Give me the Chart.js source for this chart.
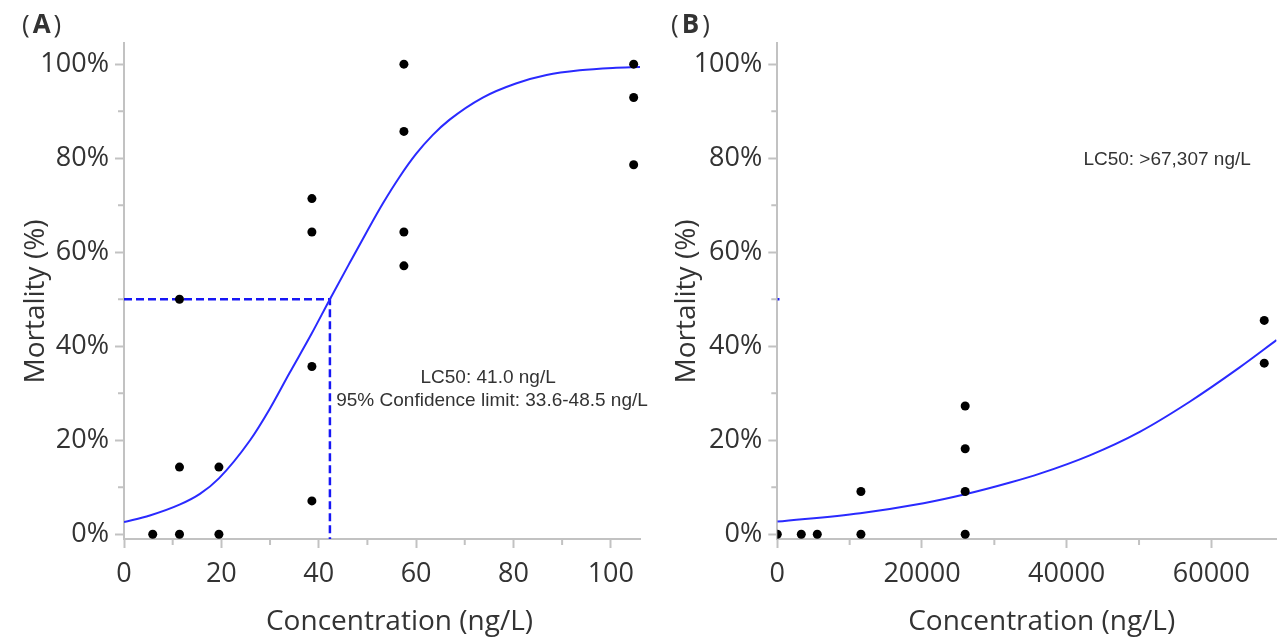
<!DOCTYPE html>
<html>
<head>
<meta charset="utf-8">
<title>Mortality vs concentration</title>
<script src="https://cdn.jsdelivr.net/npm/chart.js@4.4.1/dist/chart.umd.min.js"></script>
<style>
  body { margin: 0; background: #fff; }
  .panel { position: absolute; top: 0; height: 638px; }
  #panelA { left: 0; width: 660px; }
  #panelB { left: 660px; width: 621px; }
</style>
</head>
<body>
<div class="panel" id="panelA"><canvas id="chartA" width="660" height="638"></canvas></div>
<div class="panel" id="panelB"><canvas id="chartB" width="621" height="638"></canvas></div>
<script>
// (A) observed mortality, one value per replicate
var concA = [5.9, 11.4, 11.4, 11.4, 19.5, 19.5, 38.6, 38.6, 38.6, 38.6, 57.5, 57.5, 57.5, 57.5, 104.7, 104.7, 104.7];
var mortA = [0, 0, 14.3, 50, 0, 14.3, 7.1, 35.7, 64.3, 71.4, 57.1, 64.3, 85.7, 100, 78.6, 92.9, 100];
// (A) fitted curve
var fitConcA = [0, 5.3, 11.4, 15.6, 19.5, 25.9, 29.9, 34, 38.5, 42.3, 46.4, 49.8, 53.2, 56.6, 60, 63.4, 66.9, 73.7, 80.5, 86.8, 93.6, 100.4, 106];
var fitMortA = [2.6, 4.0, 6.3, 8.6, 11.9, 20.0, 26.6, 34.3, 42.6, 50, 57.8, 64.2, 70.4, 76.0, 80.9, 84.9, 88.2, 92.9, 95.9, 97.7, 98.7, 99.2, 99.4];
// (A) LC50 guide
var guideConcA = [0, 42.3, 42.3];
var guideMortA = [50, 50, -1];

// (B) observed mortality
var concB = [0, 3315, 5525, 11560, 11560, 25970, 25970, 25970, 25970, 67307, 67307];
var mortB = [0, 0, 0, 0, 9.1, 0, 9.1, 18.2, 27.3, 36.4, 45.5];
// (B) fitted curve
var fitConcB = [0, 11460, 20220, 25970, 32180, 36285, 43190, 50100, 57000, 63910, 69000];
var fitMortB = [2.7, 4.5, 6.6, 8.5, 11.0, 12.9, 16.8, 21.8, 28.2, 35.5, 41.3];
// (B) LC50 guide (only its start is inside the plot)
var guideConcB = [0, 300];
var guideMortB = [50, 50];

// ticks
var yMajor = [0, 20, 40, 60, 80, 100];
var yMinor = [10, 30, 50, 70, 90];
var xMajorA = [0, 20, 40, 60, 80, 100];
var xMinorA = [10, 30, 50, 70, 90];
var xMajorB = [0, 20000, 40000, 60000];
var xMinorB = [10000, 30000, 50000];

var axisGray = '#c2c2c2';
var textGray = '#333333';
var curveBlue = '#2a2aff';
var guideBlue = '#1717f5';

function pairs(xs, ys) {
    return xs.map(function (x, i) { return { x: x, y: ys[i] }; });
}

function axis(min, max, majors, fmt, pad, size) {
    return {
        type: 'linear',
        min: min,
        max: max,
        afterBuildTicks: function (s) {
            s.ticks = majors.map(function (v) { return { value: v }; });
        },
        afterFit: function (s) {
            if (s.isHorizontal()) s.height = size; else s.width = size;
        },
        ticks: {
            callback: function (v) { return fmt(v); },
            color: textGray,
            font: { family: 'Open Sans', size: 27 },
            padding: pad,
            autoSkip: false,
            maxRotation: 0
        },
        grid: { drawOnChartArea: false, tickLength: 9, tickWidth: 2, tickColor: axisGray },
        border: { color: axisGray, width: 2 }
    };
}

// titles, panel letter, LC50 notes and the short minor ticks
function panelPlugin(cfg) {
    return {
        id: 'panel' + cfg.letter,
        afterDraw: function (chart) {
            var ctx = chart.ctx;
            var area = chart.chartArea;
            var xs = chart.scales.x, ys = chart.scales.y;
            ctx.save();

            ctx.strokeStyle = axisGray;
            ctx.lineWidth = 2;
            ctx.beginPath();
            cfg.xMinor.forEach(function (v) {
                var px = xs.getPixelForValue(v);
                ctx.moveTo(px, area.bottom); ctx.lineTo(px, area.bottom + 6);
            });
            yMinor.forEach(function (v) {
                var py = ys.getPixelForValue(v);
                ctx.moveTo(area.left, py); ctx.lineTo(area.left - 6, py);
            });
            ctx.stroke();

            ctx.fillStyle = textGray;
            ctx.textBaseline = 'alphabetic';

            // (A) / (B)
            ctx.textAlign = 'left';
            var lx = cfg.labelX;
            ctx.font = '26px "Open Sans"';
            ctx.fillText('(', lx, 33);
            lx += ctx.measureText('(').width + 3;
            ctx.font = 'bold 26px "Open Sans"';
            ctx.fillText(cfg.letter, lx, 33);
            lx += ctx.measureText(cfg.letter).width + 3;
            ctx.font = '26px "Open Sans"';
            ctx.fillText(')', lx, 33);

            // axis titles
            ctx.font = '28px "Open Sans"';
            ctx.textAlign = 'center';
            ctx.fillText('Concentration (ng/L)', cfg.xTitleX, 630);
            ctx.save();
            ctx.translate(cfg.yTitleX, 301.5);
            ctx.rotate(-Math.PI / 2);
            ctx.fillText('Mortality (%)', 0, 0);
            ctx.restore();

            // notes
            ctx.font = '19px "Liberation Sans"';
            cfg.notes.forEach(function (n) {
                ctx.fillText(n.text, xs.getPixelForValue(n.x), ys.getPixelForValue(n.y));
            });
            ctx.restore();
        }
    };
}

function pct(v) { return v + '%'; }
function plain(v) { return String(v); }

function makeChart(id, cfg) {
    return new Chart(document.getElementById(id), {
        type: 'scatter',
        data: {
            datasets: [{
                data: pairs(cfg.conc, cfg.mort),
                pointRadius: 4.5,
                pointBackgroundColor: '#000',
                pointBorderWidth: 0,
                clip: { left: 0, top: 8, right: 8, bottom: 8 }
            }, {
                data: pairs(cfg.fitConc, cfg.fitMort),
                showLine: true,
                borderColor: curveBlue,
                borderWidth: 2,
                pointRadius: 0,
                cubicInterpolationMode: 'monotone'
            }, {
                data: pairs(cfg.guideConc, cfg.guideMort),
                showLine: true,
                borderColor: guideBlue,
                borderWidth: 2.5,
                borderDash: [8, 4],
                pointRadius: 0
            }]
        },
        options: {
            responsive: false,
            animation: false,
            layout: { padding: { top: 43, right: cfg.padRight, bottom: 0, left: 0 } },
            plugins: { legend: { display: false }, tooltip: { enabled: false } },
            scales: {
                x: axis(0, cfg.xMax, cfg.xMajor, plain, 10, 99),
                y: axis(-1, 104.5, yMajor, pct, 6, cfg.yWidth)
            }
        },
        plugins: [panelPlugin(cfg)]
    });
}

makeChart('chartA', {
    letter: 'A', labelX: 22, xTitleX: 399.5, yTitleX: 43.5,
    conc: concA, mort: mortA, fitConc: fitConcA, fitMort: fitMortA,
    guideConc: guideConcA, guideMort: guideMortA,
    xMax: 106, xMajor: xMajorA, xMinor: xMinorA, yWidth: 124, padRight: 20,
    notes: [
        { text: 'LC50: 41.0 ng/L', x: 74.8, y: 32.1 },
        { text: '95% Confidence limit: 33.6-48.5 ng/L', x: 75.6, y: 27.2 }
    ]
});

makeChart('chartB', {
    letter: 'B', labelX: 11, xTitleX: 381.7, yTitleX: 35,
    conc: concB, mort: mortB, fitConc: fitConcB, fitMort: fitMortB,
    guideConc: guideConcB, guideMort: guideMortB,
    xMax: 69000, xMajor: xMajorB, xMinor: xMinorB, yWidth: 117.3, padRight: 4,
    notes: [
        { text: 'LC50: >67,307 ng/L', x: 53880, y: 78.6 }
    ]
});
</script>
</body>
</html>
